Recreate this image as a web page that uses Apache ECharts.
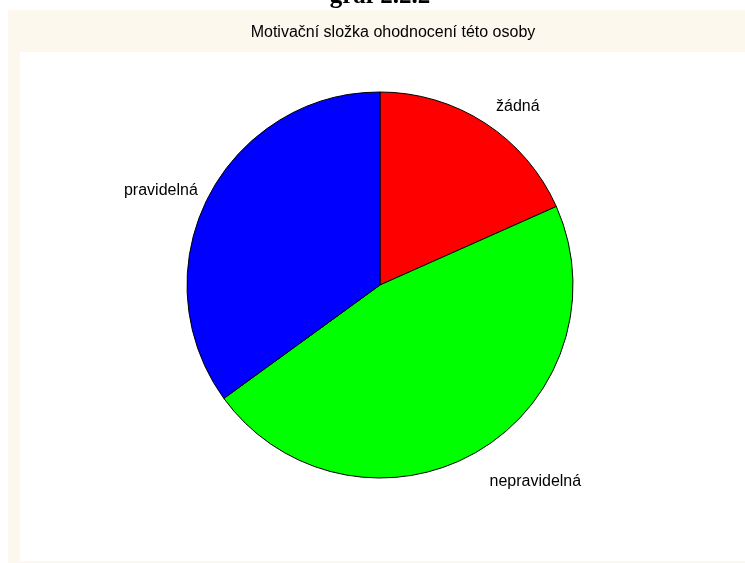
<!DOCTYPE html>
<html>
<head>
    <meta charset="UTF-8">
    <script src="https://cdn.jsdelivr.net/npm/echarts@6/dist/echarts.min.js"></script>
    <style>
        * { margin: 0; padding: 0; }
        body { background: #fff; }
        #main { width: 745px; height: 563px; }
    </style>
</head>
<body>
<div id="main"></div>
<script>
    // údaje z grafu
    var categories = ['žádná', 'nepravidelná', 'pravidelná'];
    var values = [11, 28, 21];
    var colors = ['#ff0000', '#00ff00', '#0000ff'];
    // délka vynášecí čáry (neviditelné) a posun popisku
    var labelLen = [20, 34, 16];
    var labelGap = [0, -4, -4];

    var chartDom = document.getElementById('main');
    var myChart = echarts.init(chartDom);

    var option = {
        animation: false,
        graphic: [
            // krémové pozadí
            { type: 'rect', z: -10, shape: { x: 8, y: 10, width: 737, height: 553 }, style: { fill: '#fdf8ee' } },
            // bílá plocha grafu
            { type: 'rect', z: -9, shape: { x: 20, y: 52, width: 725, height: 509 }, style: { fill: '#ffffff' } },
            {
                type: 'text', x: 380, y: 9,
                style: {
                    text: 'graf 2.2.2', font: 'bold 25px "Liberation Serif"',
                    fill: '#000', textAlign: 'center', textVerticalAlign: 'bottom'
                }
            },
            {
                type: 'text', x: 393, y: 33,
                style: {
                    text: 'Motivační složka ohodnocení této osoby', font: '16px "Liberation Sans"',
                    fill: '#000', textAlign: 'center', textVerticalAlign: 'middle'
                }
            }
        ],
        series: [
            {
                type: 'pie',
                center: [380, 285],
                radius: 193,
                startAngle: 90,
                clockwise: true,
                label: {
                    show: true,
                    position: 'outside',
                    fontFamily: 'Liberation Sans',
                    fontSize: 16,
                    color: '#000',
                    distanceToLabelLine: 0
                },
                labelLine: { show: false, length: 20, length2: 0 },
                itemStyle: { borderColor: '#000', borderWidth: 1 },
                emphasis: { disabled: true },
                data: categories.map(function (name, i) {
                    return {
                        name: name,
                        value: values[i],
                        itemStyle: { color: colors[i] },
                        label: { distanceToLabelLine: labelGap[i] },
                        labelLine: { length: labelLen[i], length2: 0 }
                    };
                })
            }
        ]
    };

    myChart.setOption(option);
</script>
</body>
</html>
